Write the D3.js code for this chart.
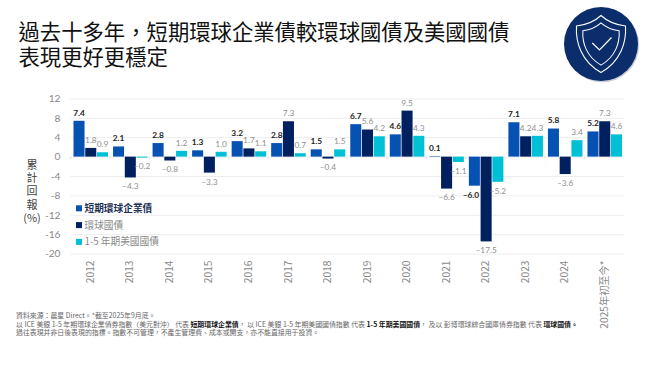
<!DOCTYPE html>
<html>
<head>
<meta charset="utf-8">
<script src="https://cdn.jsdelivr.net/npm/d3@7"></script>
<style>
  html, body { margin: 0; padding: 0; background: #fff; }
  svg { display: block; }
  text { font-family: "Noto Sans CJK TC", "Noto Sans", sans-serif; }
  .num { font-family: Lato, "Noto Sans", sans-serif; }
</style>
</head>
<body>
<svg id="chart" width="646" height="366"></svg>
<script>
// data ---------------------------------------------------------------
const years = ['2012','2013','2014','2015','2016','2017','2018','2019','2020','2021','2022','2023','2024','2025年初至今*'];
const seriesNames = ['短期環球企業債', '環球國債', '1-5 年期美國國債'];
const corpBonds = [7.4, 2.1, 2.8, 1.3, 3.2, 2.8, 1.5, 6.7, 4.6, 0.1, -6.0, 7.1, 5.8, 5.2];
const globalGovt = [1.8, -4.3, -0.8, -3.3, 1.7, 7.3, -0.4, 5.6, 9.5, -6.6, -17.5, 4.2, -3.6, 7.3];
const usGovt = [0.9, -0.2, 1.2, 1.0, 1.1, 0.7, 1.5, 4.2, 4.3, -1.1, -5.2, 4.3, 3.4, 4.6];
const yTicks = [12, 8, 4, 0, -4, -8, -12, -16, -20];
const titleLines = ['過去十多年\uFF0C短期環球企業債較環球國債及美國國債', '表現更好更穩定'];
const yLabelChars = ['累', '計', '回', '報', '(%)'];
const footLine1 = '資料來源\uFF1A晨星 Direct\u3002*截至2025年9月底\u3002';
const footLine2 = [
  ['以 ICE 美銀 1-5 年期環球企業債券指數\uFF08美元對沖\uFF09 代表 ', 0],
  ['短期環球企業債', 1],
  ['\uFF0C 以 ICE 美銀 1-5 年期美國國債指數 代表 ', 0],
  ['1-5 年期美國國債', 1],
  ['\uFF0C 及以 彭博環球綜合國庫債券指數 代表 ', 0],
  ['環球國債', 1],
  ['\u3002', 1]
];
const footLine3 = '過往表現并非日後表現的指標\u3002指數不可管理\uFF0C不產生管理費\u3001成本或開支\uFF0C亦不能直接用于投資\u3002';

const colors = ['#0652b3', '#00205f', '#00c0d6'];
const allSeries = [corpBonds, globalGovt, usGovt];

const svg = d3.select('#chart');

// scales -------------------------------------------------------------
const x = d3.scaleBand().domain(years).range([70.5, 624]).padding(0);
const xInner = d3.scaleBand().domain([0, 1, 2]).range([3, x.bandwidth() - 2]).paddingInner(0.06);
const y = d3.scaleLinear().domain([12, -20]).range([98.5, 253.5]);

// title --------------------------------------------------------------
svg.append('text')
  .attr('font-size', 21.35)
  .attr('fill', '#111')
  .selectAll('tspan')
  .data(titleLines)
  .enter()
  .append('tspan')
  .attr('x', 18.5)
  .attr('y', (d, i) => 40 + i * 24.5)
  .text(d => d);

// shield icon --------------------------------------------------------
const icon = svg.append('g').attr('transform', 'translate(601,44)');
icon.append('circle').attr('cx', 1.2).attr('cy', 1.2).attr('r', 37).attr('fill', '#c9ccd3');
icon.append('circle').attr('r', 37).attr('fill', '#0b2d6b');
const shield = 'M0,-28.5 C7,-22 16,-19 24.5,-18 C25.5,-2 20,17 0,28.5 C-20,17 -25.5,-2 -24.5,-18 C-16,-19 -7,-22 0,-28.5 Z';
icon.append('path').attr('d', shield).attr('fill', 'none').attr('stroke', '#fff').attr('stroke-width', 1.1);
icon.append('path').attr('d', shield).attr('transform', 'scale(0.74)').attr('fill', 'none').attr('stroke', '#fff').attr('stroke-width', 1.4);
icon.append('path').attr('d', 'M-8.7,-1 L-1.5,6 L10.5,-6.5').attr('fill', 'none').attr('stroke', '#fff').attr('stroke-width', 1.2);

// y axis + grid ------------------------------------------------------
const yAxis = d3.axisLeft(y)
  .tickValues(yTicks)
  .tickSize(553.5)
  .tickFormat(d => d);

const yG = svg.append('g').attr('transform', 'translate(624,0)').call(yAxis);
yG.select('.domain').remove();
yG.selectAll('.tick line').attr('stroke', '#ededed').attr('stroke-width', 1);
yG.selectAll('.tick text')
  .attr('class', 'num')
  .attr('x', -563.5)
  .attr('fill', '#8a8a8a')
  .attr('font-size', 10.2);

// x axis -------------------------------------------------------------
const xAxis = d3.axisBottom(x).tickSize(0).tickPadding(0);
const xG = svg.append('g').attr('transform', 'translate(0,260.5)').call(xAxis);
xG.select('.domain').remove();
xG.selectAll('.tick text')
  .attr('transform', 'rotate(-90)')
  .attr('text-anchor', 'end')
  .attr('x', 0)
  .attr('y', 0)
  .attr('dy', '0.35em')
  .attr('fill', '#8a8a8a')
  .attr('font-size', 10.2);

// small ticks on zero line
svg.append('g').selectAll('line')
  .data(years)
  .enter()
  .append('line')
  .attr('x1', d => x(d))
  .attr('x2', d => x(d))
  .attr('y1', y(0))
  .attr('y2', y(0) + 2.5)
  .attr('stroke', '#e2e2e2');

// bars + labels ------------------------------------------------------
allSeries.forEach((values, s) => {
  const barX = i => x(years[i]) + xInner(s);

  svg.append('g').selectAll('rect')
    .data(values)
    .enter()
    .append('rect')
    .attr('x', (d, i) => barX(i))
    .attr('width', xInner.bandwidth())
    .attr('y', d => Math.min(y(d), y(0)))
    .attr('height', d => Math.abs(y(d) - y(0)))
    .attr('fill', colors[s]);

  svg.append('g').selectAll('text')
    .data(values)
    .enter()
    .append('text')
    .attr('class', 'num')
    // the -6.0 label sits left of the tall 2022 bar
    .attr('x', (d, i) => barX(i) + xInner.bandwidth() / 2 - (d === -6.0 ? 3.5 : 0))
    .attr('y', d => d >= 0 ? y(d) - 8 : y(d) + 9)
    .attr('dy', '0.35em')
    .attr('text-anchor', 'middle')
    .attr('font-size', 8.3)
    .attr('font-weight', s === 0 ? 700 : 400)
    .attr('fill', s === 0 ? '#222' : '#8f8f8f')
    .text(d => d3.format('.1f')(d).replace(/[-\u2212]/, '\u2013'));
});

// legend -------------------------------------------------------------
const legend = svg.append('g').selectAll('g')
  .data(seriesNames)
  .enter()
  .append('g')
  .attr('transform', (d, i) => `translate(76,${208.3 + i * 16.8})`);

legend.append('rect')
  .attr('y', -3)
  .attr('width', 6)
  .attr('height', 6)
  .attr('fill', (d, i) => colors[i]);

legend.append('text')
  .attr('x', 8.5)
  .attr('dy', '0.36em')
  .attr('font-size', 9.7)
  .attr('font-weight', (d, i) => i === 0 ? 700 : 400)
  .attr('fill', (d, i) => i === 0 ? '#1d2f55' : '#8a8a8a')
  .text(d => d);

// y axis label -------------------------------------------------------
svg.append('text')
  .attr('text-anchor', 'middle')
  .attr('font-size', 11)
  .attr('fill', '#444')
  .selectAll('tspan')
  .data(yLabelChars)
  .enter()
  .append('tspan')
  .attr('x', 32)
  .attr('y', (d, i) => 168.5 + i * 13.4)
  .text(d => d);

// footnote -----------------------------------------------------------
const foot = svg.append('g').attr('font-size', 6.9).attr('fill', '#666');
foot.append('text').attr('x', 16).attr('y', 318).text(footLine1);
foot.append('text').attr('x', 16).attr('y', 326.5)
  .selectAll('tspan')
  .data(footLine2)
  .enter()
  .append('tspan')
  .attr('font-weight', d => d[1] ? 700 : 400)
  .attr('fill', d => d[1] ? '#111' : '#666')
  .text(d => d[0]);
foot.append('text').attr('x', 16).attr('y', 335).text(footLine3);
</script>
</body>
</html>
